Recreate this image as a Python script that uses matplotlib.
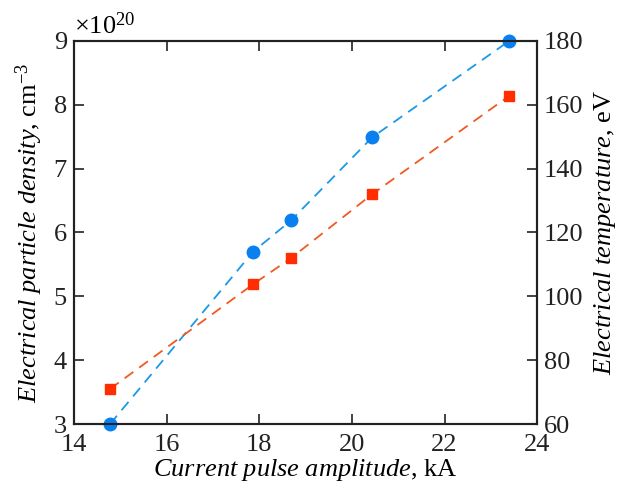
import matplotlib.pyplot as plt

plt.rcParams["font.family"] = "Liberation Serif"
plt.rcParams["mathtext.fontset"] = "custom"
plt.rcParams["mathtext.rm"] = "Liberation Serif"
plt.rcParams["mathtext.it"] = "Liberation Serif:italic"

# data
current = [14.78, 17.87, 18.69, 20.44, 23.4]  # kA
density = [3.0, 5.70, 6.19, 7.49, 9.0]  # x1e20 cm^-3
temperature = [71, 103.8, 112, 132, 162.8]  # eV

x_ticks = [14, 16, 18, 20, 22, 24]
left_ticks = [3, 4, 5, 6, 7, 8, 9]
right_ticks = [60, 80, 100, 120, 140, 160, 180]

BLUE = "#0a80f0"
BLUE_LINE = "#1c98e6"
RED = "#ff2d00"
RED_LINE = "#ee5a22"
FS = 19

fig = plt.figure(figsize=(6.21, 4.92), dpi=100)
ax = fig.add_axes([0.119, 0.138, 0.746, 0.779])
ax2 = ax.twinx()

ax.plot(current, density, linestyle=(0, (6, 4)), color=BLUE_LINE, linewidth=1.3,
        marker="o", markersize=9, markerfacecolor=BLUE, markeredgecolor=BLUE,
        clip_on=False, zorder=3)
ax2.plot(current, temperature, linestyle=(0, (6, 4)), color=RED_LINE, linewidth=1.3,
         marker="s", markersize=7.5, markerfacecolor=RED, markeredgecolor=RED,
         clip_on=False, zorder=3)

ax.set_xlim(14, 24)
ax.set_ylim(3, 9)
ax2.set_ylim(60, 180)
ax.set_xticks(x_ticks)
ax.set_yticks(left_ticks)
ax2.set_yticks(right_ticks)

for a in (ax, ax2):
    for s in a.spines.values():
        s.set_linewidth(1.5)
        s.set_color("#222222")

ax.tick_params(axis="x", direction="in", length=7, width=1.2, top=True,
               labelsize=FS, pad=7, colors="#222222")
ax.tick_params(axis="y", direction="in", length=7, width=1.2, labelsize=FS,
               pad=5, colors="#222222")
ax2.tick_params(axis="y", direction="in", length=7, width=1.2, labelsize=FS,
                pad=5, colors="#222222")

ax.set_xlabel(r"$\it{Current\ pulse\ amplitude}$, kA", fontsize=FS, labelpad=1)
ax.set_ylabel(r"$\it{Electrical\ particle\ density}$, cm$^{-3}$", fontsize=FS, labelpad=6)
ax2.set_ylabel(r"$\it{Electrical\ temperature}$, eV", fontsize=FS, labelpad=6)

ax.text(0.0, 1.005, r"$\times$10$^{20}$", transform=ax.transAxes, fontsize=FS,
        ha="left", va="bottom")

fig.savefig("out.png", dpi=100)
